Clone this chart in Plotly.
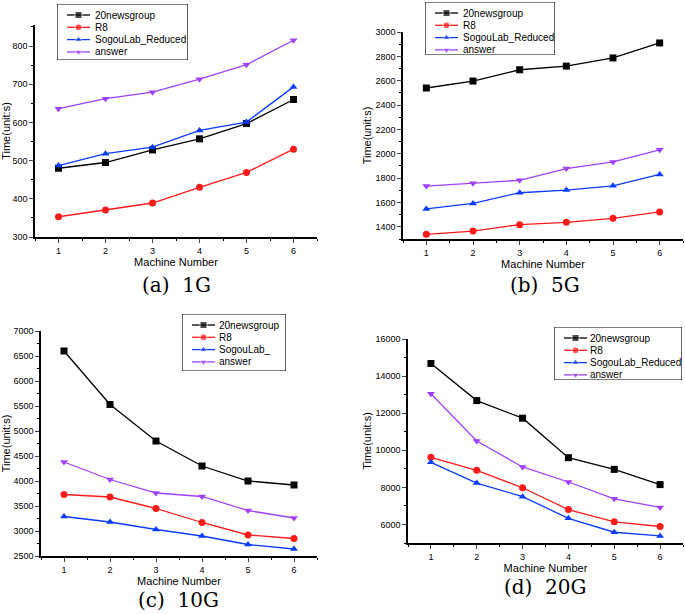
import plotly.graph_objects as go

machines = [1, 2, 3, 4, 5, 6]
series_names = ["20newsgroup", "R8", "SogouLab_Reduced", "answer"]

# (a) 1G
a_news = [480, 495, 528, 557, 597, 660]
a_r8 = [353, 371, 389, 430, 469, 530]
a_sogou = [487, 518, 535, 579, 601, 693]
a_answer = [636, 662, 679, 713, 751, 815]

# (b) 5G
b_news = [2540, 2597, 2690, 2720, 2787, 2910]
b_r8 = [1338, 1365, 1418, 1437, 1470, 1522]
b_sogou = [1547, 1592, 1680, 1702, 1737, 1830]
b_answer = [1735, 1757, 1782, 1878, 1933, 2032]

# (c) 10G
c_news = [6600, 5530, 4800, 4300, 4000, 3920]
c_r8 = [3730, 3680, 3450, 3170, 2920, 2850]
c_sogou = [3290, 3180, 3030, 2900, 2730, 2640]
c_answer = [4380, 4030, 3760, 3690, 3410, 3260]

# (d) 20G
d_news = [14680, 12680, 11730, 9600, 8970, 8150]
d_r8 = [9620, 8920, 7980, 6800, 6140, 5890]
d_sogou = [9350, 8230, 7500, 6330, 5580, 5380]
d_answer = [13050, 10500, 9100, 8290, 7380, 6920]

captions = ["(a)  1G", "(b)  5G", "(c)  10G", "(d)  20G"]
panel_labels = [series_names, series_names,
                ["20newsgroup", "R8", "SogouLab_", "answer"], series_names]

colors = ["#000000", "#ff1a1a", "#0a3cff", "#a040ff"]
symbols = ["square", "circle", "triangle-up", "triangle-down"]

W, H = 685, 614
# pixel boxes of plot areas: x0, x1, ytop, ybottom
boxes = [(35, 317, 25, 237), (403, 683, 32, 239), (41, 317, 331, 556), (408, 683, 339, 543)]
yranges = [[300, 855], [1300, 3000], [2500, 7000], [5000, 16000]]
ydtick = [100, 200, 500, 2000]
# legend boxes: x0, y0, width, height (px)
legend_boxes = [(57, 4, 131, 56), (425, 2, 130, 53), (182, 314, 104, 57), (554, 327, 128, 53)]
legend_text_x = [36, 36, 35, 34]
caption_pos = [(176, 285), (545, 285), (178, 600), (545, 587)]

panels = [
    [a_news, a_r8, a_sogou, a_answer],
    [b_news, b_r8, b_sogou, b_answer],
    [c_news, c_r8, c_sogou, c_answer],
    [d_news, d_r8, d_sogou, d_answer],
]

fig = go.Figure()
layout = {}
annotations = []
shapes = []
for p, data in enumerate(panels):
    sfx = "" if p == 0 else str(p + 1)
    for s, vals in enumerate(data):
        fig.add_trace(go.Scatter(
            x=machines, y=vals, name=panel_labels[p][s], mode="lines+markers",
            line=dict(color=colors[s], width=1.3),
            marker=dict(symbol=symbols[s], size=7, color=colors[s]),
            xaxis="x" + sfx, yaxis="y" + sfx, showlegend=False,
        ))
    x0, x1, yt, yb = boxes[p]
    layout["xaxis" + sfx] = dict(
        domain=[x0 / W, x1 / W], anchor="y" + sfx, range=[0.5, 6.5], automargin=False,
        tickmode="array", tickvals=machines, ticks="outside", ticklen=4,
        tickwidth=1, showline=True, linecolor="black", linewidth=1.5,
        showgrid=False, zeroline=False, tickfont=dict(size=9, family="Arial", color="black"),
        minor=dict(ticks="outside", ticklen=2, tickvals=[0.5, 1.5, 2.5, 3.5, 4.5, 5.5, 6.5], tickcolor="black"),
        title=dict(text="Machine Number", font=dict(size=11, family="Arial", color="black"), standoff=4),
    )
    layout["yaxis" + sfx] = dict(
        domain=[1 - yb / H, 1 - yt / H], anchor="x" + sfx, range=yranges[p], automargin=False,
        dtick=ydtick[p], tick0=0, ticks="outside", ticklen=4, tickwidth=1, tickformat="d",
        showline=True, linecolor="black", linewidth=1.5, showgrid=False, zeroline=False,
        tickfont=dict(size=9, family="Arial", color="black"),
        minor=dict(ticks="outside", ticklen=2, dtick=ydtick[p] / 2, tickcolor="black"),
        title=dict(text="Time(unit:s)", font=dict(size=11, family="Arial", color="black"), standoff=2),
    )

    # custom compact legend in its own pixel-unit overlay axes
    lx, ly, lw, lh = legend_boxes[p]
    lsfx = str(p + 5)
    layout["xaxis" + lsfx] = dict(domain=[lx / W, (lx + lw) / W], range=[0, lw], visible=False,
                                  anchor="y" + lsfx, fixedrange=True)
    layout["yaxis" + lsfx] = dict(domain=[1 - (ly + lh) / H, 1 - ly / H], range=[lh, 0], visible=False,
                                  anchor="x" + lsfx, fixedrange=True)
    shapes.append(dict(type="rect", xref="x" + lsfx, yref="y" + lsfx, x0=0, x1=lw, y0=0, y1=lh,
                       line=dict(color="black", width=1.2), fillcolor="white", layer="below"))
    for s in range(4):
        row = 11 + 12.3 * s
        fig.add_trace(go.Scatter(
            x=[10, 21.5, 33], y=[row, row, row], mode="lines+markers",
            line=dict(color=colors[s], width=1.3),
            marker=dict(symbol=symbols[s], size=[0, 7, 0], color=colors[s]),
            xaxis="x" + lsfx, yaxis="y" + lsfx, showlegend=False, hoverinfo="skip",
        ))
        annotations.append(dict(
            text=panel_labels[p][s], x=legend_text_x[p], y=row, xref="x" + lsfx, yref="y" + lsfx,
            xanchor="left", yanchor="middle", showarrow=False,
            font=dict(size=10, family="Arial", color="black"),
        ))

    cx, cy = caption_pos[p]
    annotations.append(dict(
        text=captions[p], x=cx / W, y=1 - cy / H,
        xref="paper", yref="paper", xanchor="center", yanchor="middle",
        showarrow=False, font=dict(size=20, family="DejaVu Serif", color="black"),
    ))

fig.update_layout(
    width=W, height=H, margin=dict(l=0, r=0, t=0, b=0),
    paper_bgcolor="white", plot_bgcolor="rgba(0,0,0,0)",
    annotations=annotations, shapes=shapes, showlegend=False, **layout,
)
fig.write_html("out.html", config={"displayModeBar": False},
               post_script="document.body.style.margin='0px';document.body.style.overflow='hidden';")
